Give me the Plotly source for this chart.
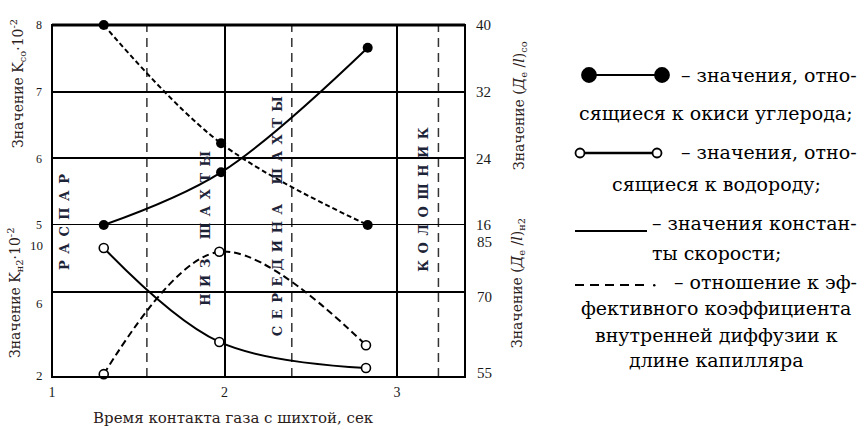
import plotly.graph_objects as go

# ---- data -------------------------------------------------------------
TIME_CO = [1.30, 1.98, 2.83]      # contact time, s (CO series)
TIME_H2 = [1.30, 1.97, 2.82]      # contact time, s (H2 series)

K_CO = [5.0, 5.79, 7.66]          # Kco·10^-2 (rate constant, left upper axis)
DL_CO = [40.0, 25.8, 16.0]        # (De/l)co (right upper axis)
K_H2 = [8.07, 3.65, 2.42]         # Kн2·10^-2 (rate constant, left lower axis)
DL_H2 = [55.5, 77.1, 60.6]        # (De/l)н2 (right lower axis)

X_TICKS = [1, 2, 3]
K_CO_TICKS = [5, 6, 7, 8]
DL_CO_TICKS = [16, 24, 32, 40]
K_H2_TICKS = [2, 6, 10]
DL_H2_TICKS = [55, 70, 85]

ZONE_BOUNDS = [1.55, 2.39, 3.24]
ZONE_NAMES = ["РАСПАР", "НИЗ ШАХТЫ", "СЕРЕДИНА ШАХТЫ", "КОЛОШНИК"]

# ---- geometry / style -------------------------------------------------
W, H = 864, 430
L, R, T, B = 52, 465, 25, 377          # plot box in pixels
NUM_FONT = "Liberation Serif"          # digits
TXT_FONT = "DejaVu Serif"              # Cyrillic text
INK = "#1a1a1a"


def px_x(x):
    return (x - L) / (R - L)


def px_y(y):
    return (B - y) / (B - T)


UPPER = [px_y(225), 1.0]
LOWER = [0.0, px_y(207)]

fig = go.Figure()

line_style = dict(color="black", width=2, shape="spline", smoothing=1.0)
filled = dict(symbol="circle", size=10, color="black")
hollow = dict(symbol="circle", size=9, color="white", line=dict(color="black", width=1.6))

fig.add_trace(go.Scatter(x=TIME_CO, y=K_CO, yaxis="y", mode="lines+markers",
                         line=line_style, marker=filled, showlegend=False,
                         cliponaxis=False))
fig.add_trace(go.Scatter(x=TIME_CO, y=DL_CO, yaxis="y2", mode="lines+markers",
                         line=dict(line_style, dash="5px,3px"), marker=filled,
                         showlegend=False, cliponaxis=False))
fig.add_trace(go.Scatter(x=TIME_H2, y=K_H2, yaxis="y3", mode="lines+markers",
                         line=line_style, marker=hollow, showlegend=False,
                         cliponaxis=False))
fig.add_trace(go.Scatter(x=TIME_H2, y=DL_H2, yaxis="y4", mode="lines+markers",
                         line=dict(line_style, dash="7px,4px"), marker=hollow,
                         showlegend=False, cliponaxis=False))

tick_small = dict(family=NUM_FONT, size=12, color=INK)
tick_right = dict(family=NUM_FONT, size=15, color=INK)

fig.update_layout(
    width=W, height=H,
    margin=dict(l=L, r=W - R, t=T, b=H - B),
    paper_bgcolor="white", plot_bgcolor="rgba(0,0,0,0)",
    showlegend=False,
    xaxis=dict(domain=[0, 1], range=[1, 3.394], anchor="y3",
               tickvals=X_TICKS, ticktext=[str(v) for v in X_TICKS],
               tickfont=dict(family=NUM_FONT, size=14, color=INK),
               ticklabelstandoff=5, showgrid=True, gridcolor="black",
               gridwidth=2, zeroline=False, showline=False, ticks=""),
    yaxis=dict(domain=UPPER, range=[5, 8], anchor="x", tickvals=K_CO_TICKS,
               tickfont=tick_small, ticklabelstandoff=9, showgrid=True,
               gridcolor="black", gridwidth=2, zeroline=False, ticks=""),
    yaxis2=dict(overlaying="y", side="right", range=[16, 40], anchor="x",
                tickvals=DL_CO_TICKS, tickfont=tick_right, ticklabelstandoff=10,
                showgrid=False, zeroline=False, ticks=""),
    yaxis3=dict(domain=LOWER, range=[2, 10], anchor="x",
                tickvals=K_H2_TICKS[:-1], showticklabels=False, showgrid=True,
                gridcolor="black", gridwidth=2, zeroline=False, ticks=""),
    yaxis4=dict(overlaying="y3", side="right", range=[55, 85], anchor="x",
                tickvals=DL_H2_TICKS, showticklabels=False, showgrid=False,
                zeroline=False, ticks=""),
)

shapes = []
annotations = []

# plot frame
shapes.append(dict(type="rect", xref="paper", yref="paper", x0=0, x1=1, y0=0, y1=1,
                   line=dict(color="black", width=2)))
shapes.append(dict(type="line", xref="paper", yref="paper", x0=0, x1=1, y0=1, y1=1,
                   line=dict(color="black", width=3)))
# bottom grid line of the upper panel (range edge, not drawn by the axis grid)
shapes.append(dict(type="line", xref="paper", yref="y", x0=0, x1=1,
                   y0=K_CO_TICKS[0], y1=K_CO_TICKS[0],
                   line=dict(color="black", width=2)))

# zone boundaries
for xb in ZONE_BOUNDS:
    shapes.append(dict(type="line", xref="x", yref="paper", x0=xb, x1=xb, y0=0, y1=1,
                       line=dict(color="#333333", width=1.5, dash="9px,6px"),
                       layer="below"))

# lower panel tick labels (offset from their grid values as printed)
left_shift = [2, -11, -38]
right_shift = [4, -5, -35]
for v, s in zip(K_H2_TICKS, left_shift):
    annotations.append(dict(xref="paper", yref="y3", x=0, y=v, text=str(v),
                            xanchor="right", yanchor="middle", xshift=-7, yshift=s,
                            showarrow=False, font=dict(family=NUM_FONT, size=13, color=INK)))
for v, s in zip(DL_H2_TICKS, right_shift):
    annotations.append(dict(xref="paper", yref="y4", x=1, y=v, text=str(v),
                            xanchor="left", yanchor="middle", xshift=10, yshift=s,
                            showarrow=False, font=tick_right))

# zone names, written along the zone boundaries
zone_x = [1.075, 1.885, 2.305, 3.155]
zone_y = [222, 228, 216, 199]


def spaced(word):
    return "\u2003\u2002".join("\u2002".join(part) for part in word.split(" "))


for name, zx, zy in zip(ZONE_NAMES, zone_x, zone_y):
    annotations.append(dict(xref="x", yref="paper", x=zx, y=px_y(zy),
                            text="<b>" + spaced(name) + "</b>",
                            textangle=-90, showarrow=False, xanchor="center",
                            yanchor="middle",
                            font=dict(family=TXT_FONT, size=13, color="#1d2438")))

# axis titles
title_font = dict(family=TXT_FONT, size=14, color="#2a201a")
titles = [
    ("Значение K<sub>со</sub>·10<sup>-2</sup>", 18, 84),
    ("Значение K<sub>н2</sub>·10<sup>-2</sup>", 15, 293),
    ("Значение (<i>Д</i><sub>е</sub> /<i>l</i>)<sub>со</sub>", 520, 106),
    ("Значение (<i>Д</i><sub>е</sub> /<i>l</i>)<sub>н2</sub>", 518, 283),
]
for text, tx, ty in titles:
    annotations.append(dict(xref="paper", yref="paper", x=px_x(tx), y=px_y(ty),
                            text=text, textangle=-90, showarrow=False,
                            xanchor="center", yanchor="middle", font=title_font))

annotations.append(dict(xref="paper", yref="paper", x=px_x(233), y=px_y(418),
                        text="Время контакта газа с шихтой, сек", showarrow=False,
                        xanchor="center", yanchor="middle",
                        font=dict(family=TXT_FONT, size=15, color="#2a201a")))

# explanatory key on the right
KEY_FONT = dict(family=TXT_FONT, size=19, color="black")
key_right = [
    ("– значения, отно-", 75),
    ("– значения, отно-", 152),
    ("– значения констан-", 223),
    ("– отношение к эф-", 282),
]
for text, ky in key_right:
    annotations.append(dict(xref="paper", yref="paper", x=px_x(859), y=px_y(ky),
                            text=text, showarrow=False, xanchor="right",
                            yanchor="middle", font=KEY_FONT))
key_center = [
    ("сящиеся к окиси углерода;", 113),
    ("сящиеся к водороду;", 184),
    ("ты скорости;", 253),
    ("фективного коэффициента", 308),
    ("внутренней диффузии к", 335),
    ("длине капилляра", 360),
]
for text, ky in key_center:
    annotations.append(dict(xref="paper", yref="paper", x=px_x(716), y=px_y(ky),
                            text=text, showarrow=False, xanchor="center",
                            yanchor="middle", font=KEY_FONT))


def key_line(x0, x1, y, width=2, dash=None):
    ln = dict(color="black", width=width)
    if dash:
        ln["dash"] = dash
    shapes.append(dict(type="line", xref="paper", yref="paper", x0=px_x(x0),
                       x1=px_x(x1), y0=px_y(y), y1=px_y(y), line=ln))


def key_dot(cx, cy, d, fill):
    shapes.append(dict(type="circle", xref="paper", yref="paper",
                       x0=px_x(cx - d / 2), x1=px_x(cx + d / 2),
                       y0=px_y(cy + d / 2), y1=px_y(cy - d / 2),
                       fillcolor=fill, line=dict(color="black", width=1.8)))


key_line(589, 662, 75)
key_dot(589, 75, 14, "black")
key_dot(662, 75, 14, "black")
key_line(580, 657, 153, width=2.5)
key_dot(580, 153, 9, "white")
key_dot(657, 153, 9, "white")
key_line(575, 647, 231)
key_line(575, 650, 285, dash="9px,6px")
shapes.append(dict(type="circle", xref="paper", yref="paper",
                   x0=px_x(653), x1=px_x(655.5), y0=px_y(286.5), y1=px_y(284),
                   fillcolor="black", line=dict(width=0)))

fig.update_layout(shapes=shapes, annotations=annotations)

fig.write_html("out.html")
